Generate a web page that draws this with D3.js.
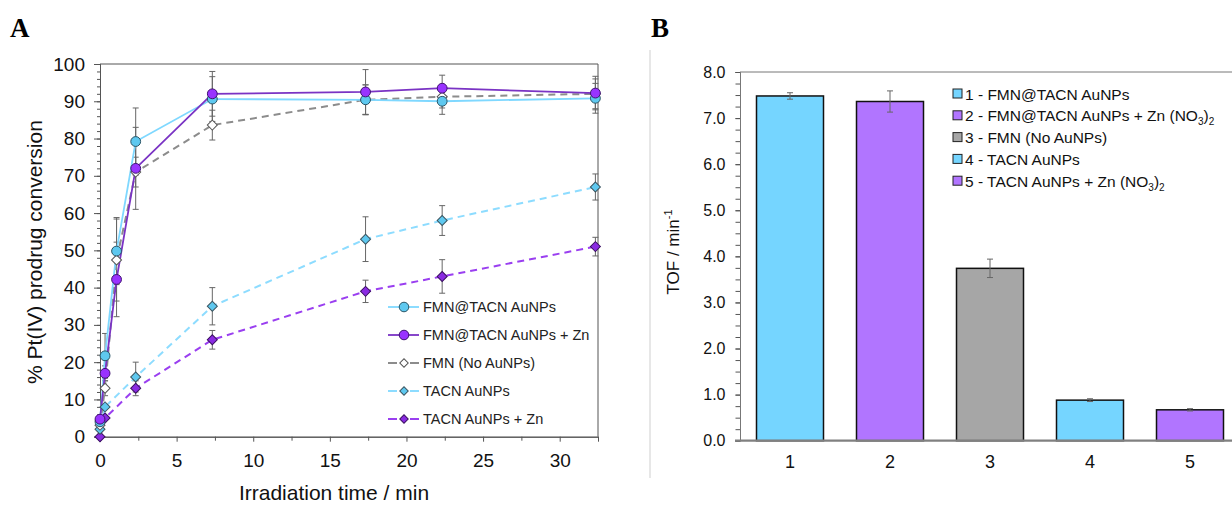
<!doctype html>
<html lang="en">
<head>
<meta charset="UTF-8">
<title>Pt(IV) prodrug conversion and TOF</title>
<script src="https://d3js.org/d3.v7.min.js"></script>
<style>
  body { margin: 0; background: #fff; }
  svg { font-family: "Liberation Sans", Arial, sans-serif; }
</style>
</head>
<body>
<div id="chart"></div>
<script>
// ---- panel A data ----
var timesA = [0, 0.33, 1.08, 2.33, 7.33, 17.33, 22.33, 32.33];
var timesTacn = [0, 0.33, 2.33, 7.33, 17.33, 22.33, 32.33];

var fmnTacn     = [4, 21.7, 49.8, 79.2, 90.6, 90.4, 90.0, 90.8];
var fmnTacnErr  = [1, 6, 9, 9, 6, 4, 3.5, 4];
var fmnTacnZn   = [4.7, 17, 42.2, 72, 92, 92.5, 93.5, 92.2];
var fmnTacnZnErr = [1, 2, 10, 11, 6, 6, 3.5, 4.5];
var fmnOnly     = [3.1, 13, 47.4, 71, 83.6, 90.4, 91.2, 92.0];
var fmnOnlyErr  = [1, 2, 11, 4, 4, 4, 3, 4];
var tacn        = [2, 8, 16, 35, 53, 58, 67];
var tacnErr     = [1, 1, 4, 5, 6, 4, 3.5];
var tacnZn      = [0, 5, 13, 26, 39, 43, 51];
var tacnZnErr   = [0, 1, 2, 2.5, 3, 4.5, 2.5];

var legendA = ["FMN@TACN AuNPs", "FMN@TACN AuNPs + Zn", "FMN (No AuNPs)", "TACN AuNPs", "TACN AuNPs + Zn"];

// ---- panel B data ----
var barCats = ["1", "2", "3", "4", "5"];
var tofVals = [7.48, 7.36, 3.74, 0.88, 0.67];
var tofErr  = [0.07, 0.23, 0.2, 0.03, 0.025];
var legendB = ["1 - FMN@TACN AuNPs", "2 - FMN@TACN AuNPs + Zn", "3 - FMN (No AuNPs)", "4 - TACN AuNPs", "5 - TACN AuNPs + Zn"];

var W = 1232, H = 507;
var svg = d3.select("#chart").append("svg").attr("width", W).attr("height", H);

// panel letters
svg.append("text").attr("x", 10).attr("y", 37).text("A")
  .style("font-family", "'Liberation Serif', serif").style("font-weight", "bold").style("font-size", "27px");
svg.append("text").attr("x", 651).attr("y", 37).text("B")
  .style("font-family", "'Liberation Serif', serif").style("font-weight", "bold").style("font-size", "27px");

// separator
svg.append("line").attr("x1", 650).attr("x2", 650).attr("y1", 50).attr("y2", 478)
  .attr("stroke", "#cfcfcf").attr("stroke-width", 1);

// ================= PANEL A =================
var xA = d3.scaleLinear().domain([0, 32.5]).range([100, 598]);
var yA = d3.scaleLinear().domain([0, 100]).range([436.7, 64]);
var gA = svg.append("g");

// frame top/right
gA.append("line").attr("x1", xA(0)).attr("x2", xA(32.5)).attr("y1", yA(100)).attr("y2", yA(100)).attr("stroke", "#555");
gA.append("line").attr("x1", xA(32.5)).attr("x2", xA(32.5)).attr("y1", yA(100)).attr("y2", yA(0)).attr("stroke", "#555");

// y axis
var yMinorA = gA.append("g").attr("transform", "translate(100,0)")
  .call(d3.axisLeft(yA).tickValues(d3.range(0, 101, 2)).tickSize(3).tickFormat(""));
var yMajorA = gA.append("g").attr("transform", "translate(100,0)")
  .call(d3.axisLeft(yA).tickValues(d3.range(0, 101, 10)).tickSize(6).tickPadding(9));
yMajorA.selectAll("text").style("font-size", "19px").attr("fill", "#111");

// x axis
var xMinorA = gA.append("g").attr("transform", "translate(0,436.7)")
  .call(d3.axisBottom(xA).tickValues(d3.range(2.5, 32.6, 5)).tickSize(4).tickFormat(""));
var xMajorA = gA.append("g").attr("transform", "translate(0,436.7)")
  .call(d3.axisBottom(xA).tickValues(d3.range(0, 31, 5)).tickSize(5).tickPadding(12));
xMajorA.selectAll("text").style("font-size", "19px").attr("fill", "#111");

[yMinorA, yMajorA, xMinorA, xMajorA].forEach(function(g) {
  g.select(".domain").attr("stroke", "#555");
  g.selectAll(".tick line").attr("stroke", "#555");
});

gA.append("text").attr("x", 334).attr("y", 500).attr("text-anchor", "middle")
  .style("font-size", "21px").attr("fill", "#111").text("Irradiation time / min");
gA.append("text").attr("transform", "translate(42,252) rotate(-90)").attr("text-anchor", "middle")
  .style("font-size", "21px").attr("fill", "#111").text("% Pt(IV) prodrug conversion");

var seriesA = [
  {t: timesA, v: fmnTacn, e: fmnTacnErr, line: "#7fd8ff", dash: null, shape: "circle", fill: "#5ec8ef", stroke: "#2b5566"},
  {t: timesA, v: fmnTacnZn, e: fmnTacnZnErr, line: "#7a33c4", dash: null, shape: "circle", fill: "#9933ff", stroke: "#3f1470"},
  {t: timesA, v: fmnOnly, e: fmnOnlyErr, line: "#8c8c8c", dash: "7,5", shape: "diamond", fill: "#ffffff", stroke: "#555"},
  {t: timesTacn, v: tacn, e: tacnErr, line: "#8ddcff", dash: "7,5", shape: "diamond", fill: "#5ec8ef", stroke: "#3c5560"},
  {t: timesTacn, v: tacnZn, e: tacnZnErr, line: "#9a3ff0", dash: "7,5", shape: "diamond", fill: "#8a2be2", stroke: "#3a1060"}
];

// circle, or a square turned 45 degrees for the diamonds
var symbolFor = function(s, size) {
  return d3.symbol().type(s.shape === "circle" ? d3.symbolCircle : d3.symbolSquare).size(size)();
};
var rotFor = function(s) { return s.shape === "circle" ? "" : " rotate(45)"; };

// error bars
seriesA.forEach(function(s) {
  var g = gA.append("g");
  s.t.forEach(function(t, i) {
    if (s.e[i] <= 1.2) return;
    var x = xA(t), y1 = yA(s.v[i] - s.e[i]), y2 = yA(s.v[i] + s.e[i]);
    g.append("line").attr("x1", x).attr("x2", x).attr("y1", y1).attr("y2", y2).attr("stroke", "#666").attr("stroke-width", 1);
    [y1, y2].forEach(function(y) {
      g.append("line").attr("x1", x - 3).attr("x2", x + 3).attr("y1", y).attr("y2", y).attr("stroke", "#666").attr("stroke-width", 1);
    });
  });
});

// lines (dashed below solid)
var lineA = d3.line().x(function(d) { return xA(d[0]); }).y(function(d) { return yA(d[1]); });
[4, 3, 2, 0, 1].forEach(function(k) {
  var s = seriesA[k];
  gA.append("path").datum(d3.zip(s.t, s.v)).attr("d", lineA).attr("fill", "none")
    .attr("stroke", s.line).attr("stroke-width", s.dash ? 2 : 1.8).attr("stroke-dasharray", s.dash);
});

// markers
[4, 3, 2, 0, 1].forEach(function(k) {
  var s = seriesA[k];
  gA.append("g").selectAll("path").data(d3.zip(s.t, s.v)).enter().append("path")
    .attr("transform", function(d) { return "translate(" + xA(d[0]) + "," + yA(d[1]) + ")" + rotFor(s); })
    .attr("d", symbolFor(s, s.shape === "circle" ? 76 : 50))
    .attr("fill", s.fill).attr("stroke", s.stroke).attr("stroke-width", 1);
});

// legend A
var legA = gA.append("g").attr("transform", "translate(388,307)");
seriesA.forEach(function(s, i) {
  var row = legA.append("g").attr("transform", "translate(0," + (i * 28) + ")");
  if (s.dash) {
    row.append("line").attr("x1", 0).attr("x2", 9).attr("stroke", s.line).attr("stroke-width", 2);
    row.append("line").attr("x1", 22).attr("x2", 31).attr("stroke", s.line).attr("stroke-width", 2);
  } else {
    row.append("line").attr("x1", 0).attr("x2", 31).attr("stroke", s.line).attr("stroke-width", 1.8);
  }
  row.append("path").attr("transform", "translate(16,0)" + rotFor(s)).attr("d", symbolFor(s, s.shape === "circle" ? 72 : 36))
    .attr("fill", s.fill).attr("stroke", s.stroke).attr("stroke-width", 1);
  row.append("text").attr("x", 35).attr("y", 5).style("font-size", "14.5px").attr("fill", "#222").text(legendA[i]);
});

// ================= PANEL B =================
var xB = d3.scaleBand().domain(barCats).range([740, 1240]).paddingInner(0.33).paddingOuter(0.165);
var yB = d3.scaleLinear().domain([0, 8]).range([440.7, 72]);
var gB = svg.append("g");
var barColors = ["#75d5ff", "#b175ff", "#a6a6a6", "#75d5ff", "#b175ff"];

gB.append("line").attr("x1", 740).attr("x2", W).attr("y1", yB(8)).attr("y2", yB(8)).attr("stroke", "#777");

var yMinorB = gB.append("g").attr("transform", "translate(740,0)")
  .call(d3.axisLeft(yB).tickValues(d3.range(0, 8.01, 0.25)).tickSize(4.5).tickFormat(""));
var yMajorB = gB.append("g").attr("transform", "translate(740,0)")
  .call(d3.axisLeft(yB).tickValues(d3.range(0, 8.01, 1)).tickSize(4.5).tickPadding(10).tickFormat(d3.format(".1f")));
yMajorB.selectAll("text").style("font-size", "16px").attr("fill", "#111");
[yMinorB, yMajorB].forEach(function(g) {
  g.select(".domain").attr("stroke", "#777");
  g.selectAll(".tick line").attr("stroke", "#555");
});

gB.selectAll("rect.bar").data(tofVals).enter().append("rect").attr("class", "bar")
  .attr("x", function(d, i) { return xB(barCats[i]); })
  .attr("y", function(d) { return yB(d); })
  .attr("width", xB.bandwidth())
  .attr("height", function(d) { return yB(0) - yB(d); })
  .attr("fill", function(d, i) { return barColors[i]; })
  .attr("stroke", "#111").attr("stroke-width", 1.5);

tofVals.forEach(function(v, i) {
  var x = xB(barCats[i]) + xB.bandwidth() / 2, y1 = yB(v - tofErr[i]), y2 = yB(v + tofErr[i]);
  gB.append("line").attr("x1", x).attr("x2", x).attr("y1", y1).attr("y2", y2).attr("stroke", "#666");
  [y1, y2].forEach(function(y) {
    gB.append("line").attr("x1", x - 3).attr("x2", x + 3).attr("y1", y).attr("y2", y).attr("stroke", "#666");
  });
});

var xAxisB = gB.append("g").attr("transform", "translate(0,440.7)")
  .call(d3.axisBottom(xB).tickSize(0).tickPadding(15));
xAxisB.select(".domain").attr("stroke", "#808080").attr("stroke-width", 2.2).attr("d", "M735,0H" + W);
xAxisB.selectAll("text").style("font-size", "18px").attr("fill", "#111");

var tofLab = gB.append("text").attr("transform", "translate(679,252) rotate(-90)").attr("text-anchor", "middle")
  .style("font-size", "17px").attr("fill", "#111");
tofLab.append("tspan").text("TOF / min");
tofLab.append("tspan").attr("dy", -7).style("font-size", "11px").text("-1");

// legend B
var legB = gB.append("g").attr("transform", "translate(953,94)");
legendB.forEach(function(name, i) {
  var row = legB.append("g").attr("transform", "translate(0," + (i * 21.8) + ")");
  row.append("rect").attr("x", 0).attr("y", -5).attr("width", 9).attr("height", 9)
    .attr("fill", barColors[i]).attr("stroke", "#222").attr("stroke-width", 1);
  var t = row.append("text").attr("x", 12).attr("y", 5.5).style("font-size", "15.5px").attr("fill", "#111");
  if (name.indexOf("Zn") >= 0) {
    t.append("tspan").text(name + " (NO");
    t.append("tspan").attr("dy", 4).style("font-size", "10px").text("3");
    t.append("tspan").attr("dy", -4).text(")");
    t.append("tspan").attr("dy", 4).style("font-size", "10px").text("2");
  } else {
    t.text(name);
  }
});
</script>
</body>
</html>
